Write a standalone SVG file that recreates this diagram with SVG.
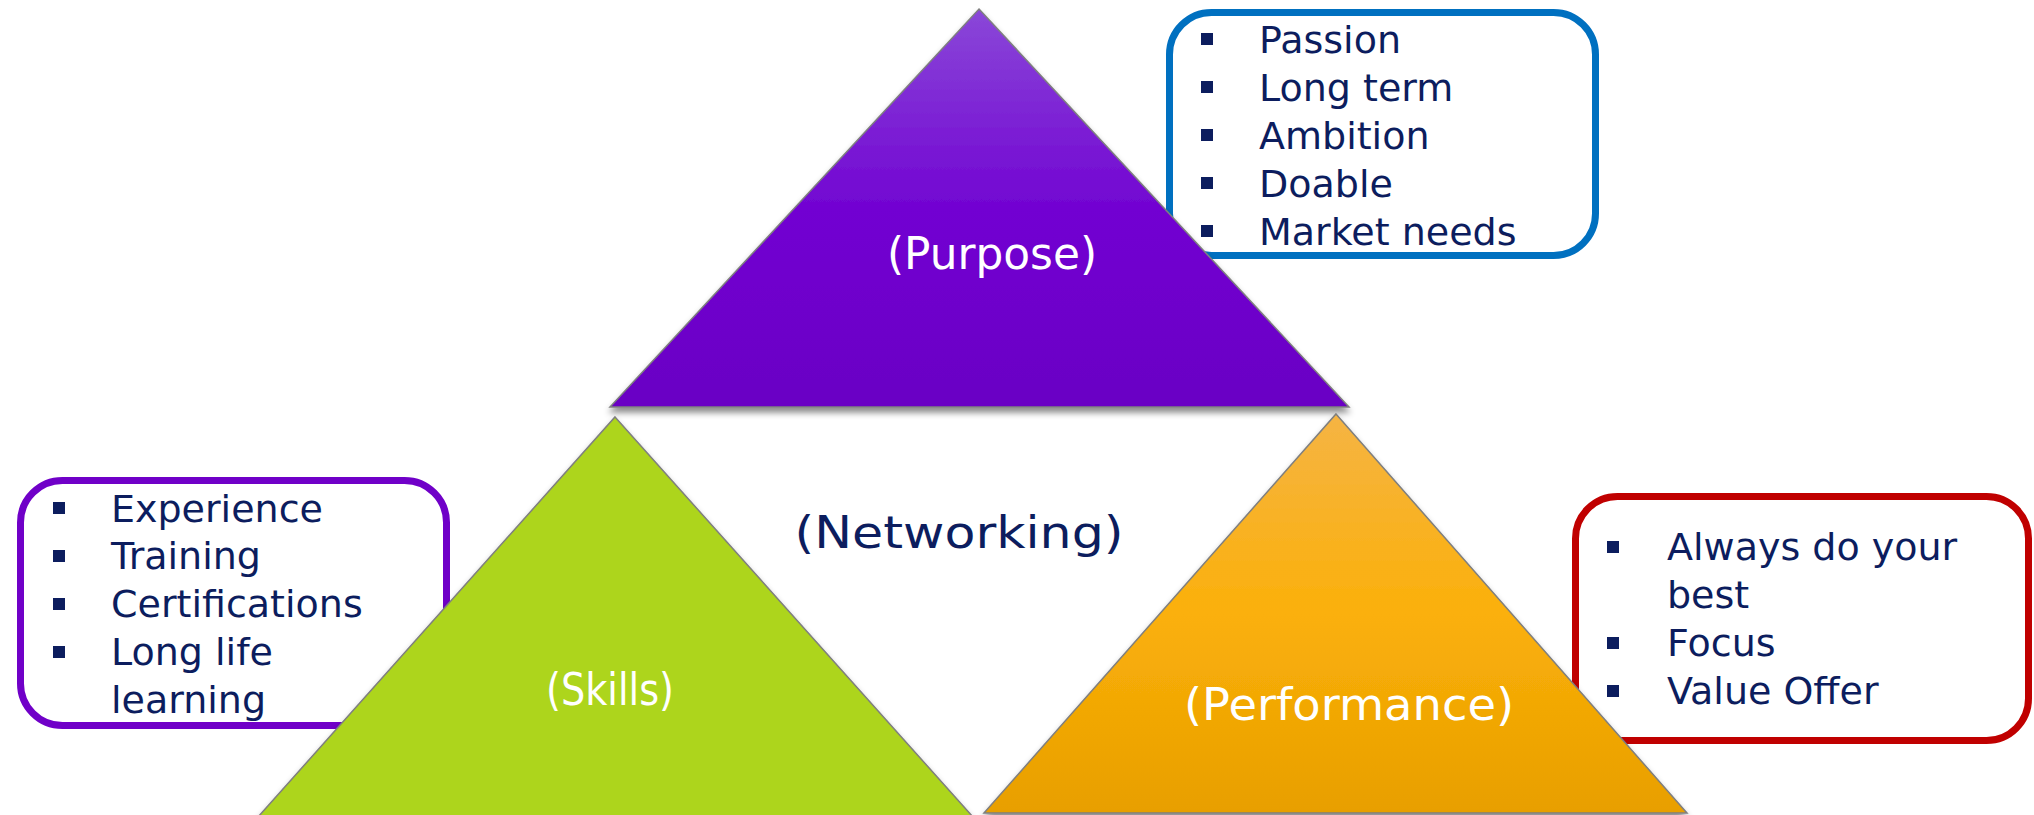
<svg xmlns="http://www.w3.org/2000/svg" width="2034" height="815" viewBox="0 0 2034 815">
  <style>
    .lst { font-family: "DejaVu Sans", "Liberation Sans", sans-serif; font-size: 38px; fill: #0c1d5e; }
    .lbl { font-family: "DejaVu Sans", "Liberation Sans", sans-serif; font-size: 45px; }
    .wht { fill: #ffffff; }
    .nav { fill: #0c1d5e; }
    .bul { fill: #0c1d5e; }
    .tri { stroke: #7f7f7f; stroke-width: 1.5; filter: url(#sh); }
    .box { fill: #ffffff; stroke-width: 7; }
  </style>
  <defs>
    <linearGradient id="gp" x1="0" y1="0" x2="0" y2="1">
      <stop offset="0" stop-color="#8a48d8"/>
      <stop offset="0.5" stop-color="#7204d2"/>
      <stop offset="1" stop-color="#6a00c4"/>
    </linearGradient>
    <linearGradient id="go" x1="0" y1="0" x2="0" y2="1">
      <stop offset="0" stop-color="#f5b444"/>
      <stop offset="0.5" stop-color="#fbb00a"/>
      <stop offset="1" stop-color="#e89f00"/>
    </linearGradient>
    <filter id="sh" x="-10%" y="-10%" width="120%" height="130%">
      <feDropShadow dx="0" dy="5" stdDeviation="3" flood-color="#000000" flood-opacity="0.45"/>
    </filter>
  </defs>
  <rect width="2034" height="815" fill="#ffffff"/>

  <g id="purpose-list">
    <rect class="box" x="1169.5" y="12.5" width="426" height="243" rx="42" stroke="#0070c0"/>
    <rect class="bul" x="1201" y="33" width="12" height="12"/>
    <rect class="bul" x="1201" y="81" width="12" height="12"/>
    <rect class="bul" x="1201" y="129" width="12" height="12"/>
    <rect class="bul" x="1201" y="177" width="12" height="12"/>
    <rect class="bul" x="1201" y="225" width="12" height="12"/>
    <text class="lst" x="1259" y="53">Passion</text>
    <text class="lst" x="1259" y="101">Long term</text>
    <text class="lst" x="1259" y="149">Ambition</text>
    <text class="lst" x="1259" y="197">Doable</text>
    <text class="lst" x="1259" y="245">Market needs</text>
  </g>

  <g id="skills-list">
    <rect class="box" x="20.5" y="480.5" width="426" height="245" rx="42" stroke="#7000c8"/>
    <rect class="bul" x="53" y="502" width="12" height="12"/>
    <rect class="bul" x="53" y="550" width="12" height="12"/>
    <rect class="bul" x="53" y="598" width="12" height="12"/>
    <rect class="bul" x="53" y="646" width="12" height="12"/>
    <text class="lst" x="111" y="522">Experience</text>
    <text class="lst" x="111" y="569">Training</text>
    <text class="lst" x="111" y="617">Certifications</text>
    <text class="lst" x="111" y="665">Long life</text>
    <text class="lst" x="111" y="713">learning</text>
  </g>

  <g id="performance-list">
    <rect class="box" x="1575.5" y="496.5" width="453" height="244" rx="42" stroke="#c00000"/>
    <rect class="bul" x="1607" y="541" width="12" height="12"/>
    <rect class="bul" x="1607" y="637" width="12" height="12"/>
    <rect class="bul" x="1607" y="685" width="12" height="12"/>
    <text class="lst" x="1667" y="560">Always do your</text>
    <text class="lst" x="1667" y="608">best</text>
    <text class="lst" x="1667" y="656">Focus</text>
    <text class="lst" x="1667" y="704">Value Offer</text>
  </g>

  <g id="purpose">
    <polygon class="tri" points="979,9 1349,407 610,407" fill="url(#gp)"/>
    <text class="lbl wht" x="992" y="269" text-anchor="middle" textLength="210" lengthAdjust="spacingAndGlyphs">(Purpose)</text>
  </g>

  <g id="skills">
    <polygon class="tri" points="615,417 973,817 258,817" fill="#add51a"/>
    <text class="lbl wht" x="610" y="705" text-anchor="middle" textLength="128" lengthAdjust="spacingAndGlyphs">(Skills)</text>
  </g>

  <g id="performance">
    <polygon class="tri" points="1336,414 1687,813 984,813" fill="url(#go)"/>
    <text class="lbl wht" x="1349" y="720" text-anchor="middle" textLength="330" lengthAdjust="spacingAndGlyphs">(Performance)</text>
  </g>

  <g id="networking">
    <text class="lbl nav" x="959" y="548" text-anchor="middle" textLength="329" lengthAdjust="spacingAndGlyphs">(Networking)</text>
  </g>

  <g id="connectors"></g>
</svg>
